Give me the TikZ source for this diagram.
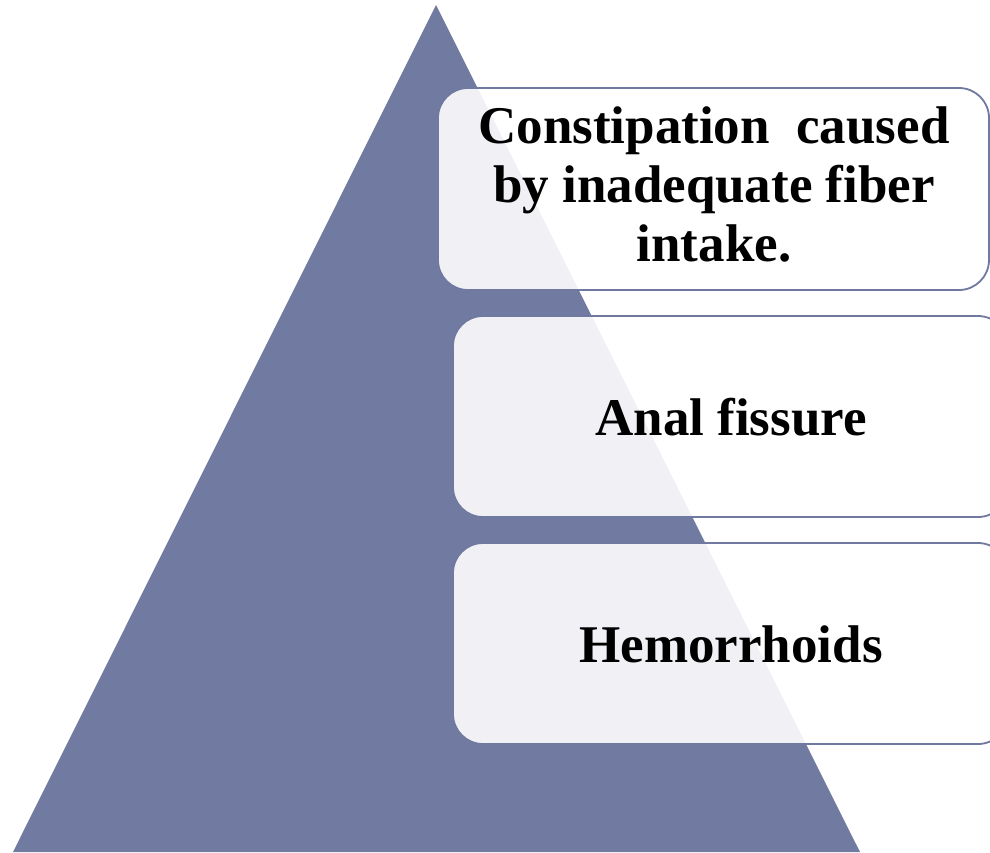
\documentclass[tikz,border=0pt]{standalone}
\usepackage{fontspec}
\setmainfont{Liberation Serif}
\definecolor{tri}{HTML}{717AA1}
\definecolor{edge}{HTML}{7079A0}
\tikzset{
  level/.style={draw=edge, line width=1.8pt, rounded corners=30pt, fill=white, fill opacity=0.9},
  lbl/.style={text=black, font=\fontsize{53}{59}\selectfont\bfseries, align=center, inner sep=0pt}
}
\begin{document}
\begin{tikzpicture}[x=1pt,y=-1pt]
\useasboundingbox (0,0) rectangle (990,852);
\clip (0,0) rectangle (990,852);
\fill[tri] (436,5) coordinate (apex) -- (13,852) coordinate (bl) -- (860,852) coordinate (br) -- cycle;
\draw[level] (438,88) rectangle (989,290);
\draw[level] (453,316) rectangle (1008,517);
\draw[level] (453,543) rectangle (1008,744);
\node[lbl] (t1) at (714,184) {Constipation\ \ caused\\by inadequate fiber\\intake.};
\node[lbl] (t2) at (731,417) {Anal fissure};
\node[lbl] (t3) at (731,644) {Hemorrhoids};
\end{tikzpicture}
\end{document}
